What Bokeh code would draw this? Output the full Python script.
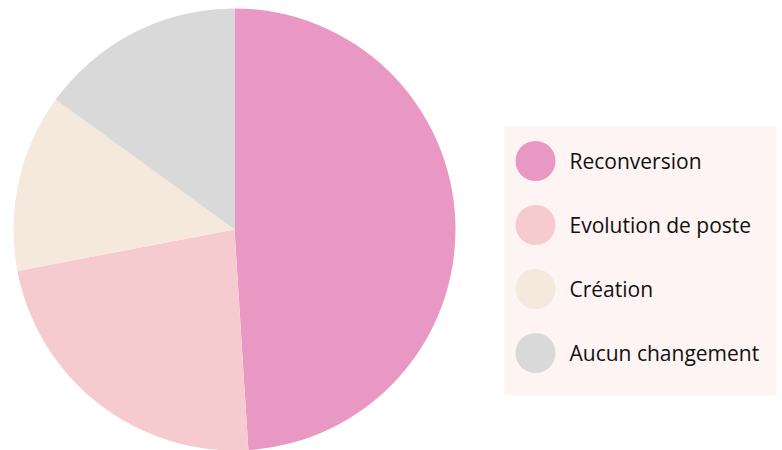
import numpy as np
from bokeh.plotting import figure
from bokeh.models import ColumnDataSource, Range1d
from bokeh.core.properties import value
from bokeh.embed import file_html
from bokeh.resources import INLINE

categories = ["Reconversion", "Evolution de poste", "Création", "Aucun changement"]
values = [49, 23, 13, 15]
colors = ["#e898c2", "#f6cbcf", "#f5e8dc", "#d9d9d9"]

W, H = 782, 450
p = figure(width=W, height=H, output_backend="svg", toolbar_location=None,
           x_range=Range1d(0, W), y_range=Range1d(0, H), min_border=0,
           outline_line_color=None, background_fill_color="white")
p.axis.visible = False
p.grid.visible = False

vals = np.array(values, dtype=float)
frac = vals / vals.sum()
ends = np.cumsum(frac) * 2 * np.pi
starts = np.concatenate([[0], ends[:-1]])
src = ColumnDataSource(dict(cat=categories, color=colors,
                            start=np.pi / 2 - starts, end=np.pi / 2 - ends))
p.wedge(x=234, y=221, radius=221, start_angle="start", end_angle="end",
        direction="clock", fill_color="color", line_color=None, source=src)

# legend
p.quad(left=504, right=776, bottom=55, top=324, fill_color="#fdf4f3", line_color=None)
n = len(categories)
ly = [289.5 - 64 * i for i in range(n)]
lsrc = ColumnDataSource(dict(cat=categories, color=colors, y=ly))
p.scatter(x=535, y="y", size=40, marker="circle", fill_color="color", line_color=None, source=lsrc)
p.text(x=569, y="y", text="cat", text_font=value("Open Sans"), text_font_size="21px",
       text_baseline="middle", text_color="#111111", source=lsrc)

open("out.html", "w").write(file_html(p, INLINE))
